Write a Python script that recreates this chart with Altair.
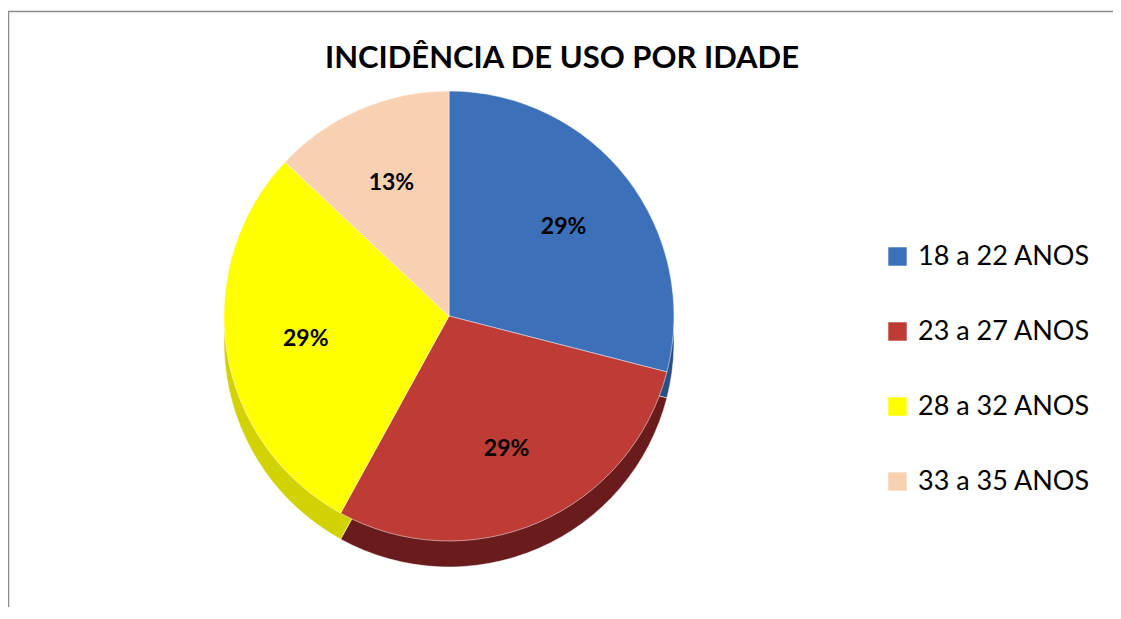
import altair as alt
import pandas as pd

categories = ["18 a 22 ANOS", "23 a 27 ANOS", "28 a 32 ANOS", "33 a 35 ANOS"]
values = [29, 29, 29, 13]
labels = ["29%", "29%", "29%", "13%"]
top_colors = ["#3c71ba", "#bf3b36", "#ffff00", "#f8d1b3"]
side_colors = ["#294f86", "#6a1c1c", "#d2d200", "#cfa98a"]
title_text = "INCIDÊNCIA DE USO POR IDADE"

df = pd.DataFrame({
    "cat": categories,
    "val": values,
    "lab": labels,
    "ord": list(range(len(categories))),
    "side": side_colors,
})

FONT = "Lato"
CX, CY, R, DEPTH = 441, 305, 225, 26

base = alt.Chart(df)

side = base.mark_arc(radius=R, stroke="#ffffff", strokeWidth=0.5).encode(
    theta=alt.Theta("val:Q", stack=True),
    order=alt.Order("ord:Q"),
    color=alt.Color("side:N", scale=None),
    x=alt.value(CX),
    y=alt.value(CY + DEPTH),
)

top = base.mark_arc(radius=R, stroke="#ffffff", strokeWidth=0.5).encode(
    theta=alt.Theta("val:Q", stack=True),
    order=alt.Order("ord:Q"),
    color=alt.Color(
        "cat:N",
        scale=alt.Scale(domain=categories, range=top_colors),
        sort=categories,
        legend=alt.Legend(
            title=None,
            orient="none",
            legendX=876,
            legendY=232,
            symbolType="square",
            symbolSize=340,
            symbolStrokeWidth=0,
            labelFontSize=27,
            labelFont=FONT,
            labelColor="#000000",
            labelLimit=0,
            rowPadding=47,
            labelOffset=7,
        ),
    ),
    x=alt.value(CX),
    y=alt.value(CY),
)

text = base.mark_text(radius=145, fontSize=23, fontWeight="bold", font=FONT, color="#000000").encode(
    theta=alt.Theta("val:Q", stack=True),
    order=alt.Order("ord:Q"),
    text="lab:N",
    x=alt.value(CX),
    y=alt.value(CY),
)

title = alt.Chart(pd.DataFrame({"t": [title_text]})).mark_text(
    fontSize=31, fontWeight="bold", font=FONT, color="#000000", align="center", baseline="middle"
).encode(text="t:N", x=alt.value(554), y=alt.value(48))

frame_left = alt.Chart(pd.DataFrame({"a": [0]})).mark_rule(color="#8c8c8c", strokeWidth=1.5).encode(
    x=alt.value(0.5), y=alt.value(0), y2=alt.value(620)
)
frame_top = alt.Chart(pd.DataFrame({"a": [0]})).mark_rule(color="#8c8c8c", strokeWidth=1.5).encode(
    x=alt.value(0), x2=alt.value(1110), y=alt.value(0.5)
)

chart = alt.layer(frame_left, frame_top, side, top, text, title).properties(
    width=1100,
    height=596,
    background="#ffffff",
    autosize=alt.AutoSizeParams(type="none"),
    padding={"left": 0, "top": 3, "right": 5, "bottom": 0},
).configure_view(stroke="transparent", strokeWidth=0)

chart.save("out.html", embed_options={"renderer": "svg", "actions": False})
